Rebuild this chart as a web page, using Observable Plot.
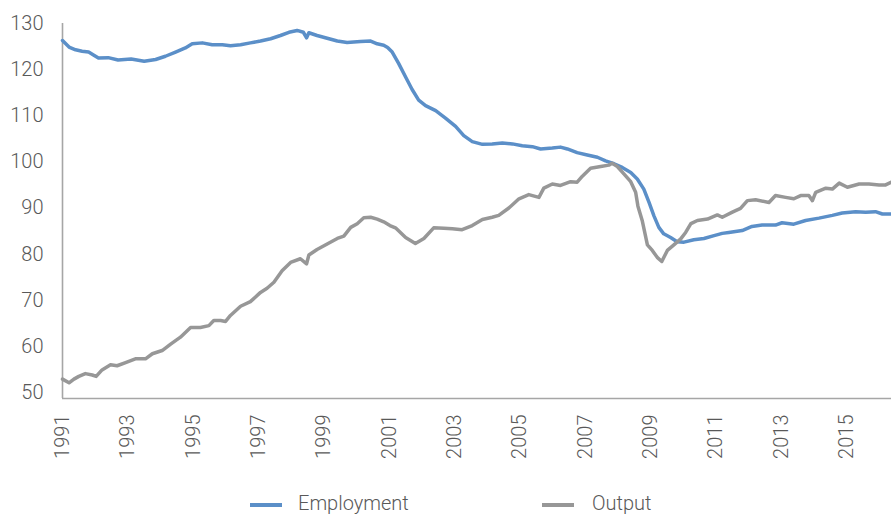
<!DOCTYPE html>
<html>
<head>
<meta charset="utf-8">
<script src="https://cdn.jsdelivr.net/npm/d3@7"></script>
<script src="https://cdn.jsdelivr.net/npm/@observablehq/plot@0.6"></script>
<style>
  html, body { margin: 0; padding: 0; background: #fff; }
  #wrap { position: relative; width: 891px; height: 515px; overflow: hidden; font-family: Roboto, "Liberation Sans", Arial, sans-serif; font-weight: 300; }
  .leg { position: absolute; top: 491px; font-size: 20px; color: #595959; line-height: 24px; font-weight: 300; }
  .sw { position: absolute; height: 3.5px; top: 503px; }
</style>
</head>
<body>
<div id="wrap">
  <div id="chart"></div>
</div>
<script>
// ---- Data ----
const seriesNames = ["Employment", "Output"];
const seriesColors = ["#5b8fc8", "#979797"];

const empYears = [1991.0,1991.2,1991.4,1991.6,1991.8,1991.96,1992.1,1992.4,1992.7,1993.1,1993.5,1993.85,1994.15,1994.46,1994.76,1994.97,1995.28,1995.58,1995.89,1996.14,1996.45,1996.75,1997.06,1997.37,1997.67,1997.93,1998.18,1998.37,1998.47,1998.54,1998.79,1999.1,1999.41,1999.71,2000.12,2000.43,2000.63,2000.83,2000.95,2001.09,2001.29,2001.5,2001.7,2001.9,2002.11,2002.42,2002.72,2003.03,2003.28,2003.54,2003.85,2004.15,2004.46,2004.77,2005.07,2005.38,2005.63,2005.99,2006.24,2006.45,2006.75,2007.06,2007.37,2007.62,2007.88,2008.13,2008.39,2008.59,2008.79,2008.95,2009.1,2009.25,2009.4,2009.61,2009.81,2010.02,2010.32,2010.63,2010.94,2011.19,2011.39,2011.8,2012.1,2012.41,2012.82,2013.02,2013.38,2013.74,2014.15,2014.56,2014.86,2015.27,2015.58,2015.88,2016.09,2016.37];
const empValues = [126.3,124.9,124.3,124.0,123.8,123.1,122.5,122.6,122.1,122.3,121.8,122.2,122.9,123.8,124.7,125.6,125.8,125.4,125.4,125.2,125.4,125.8,126.2,126.7,127.4,128.1,128.5,128.1,126.9,128.0,127.4,126.8,126.2,125.9,126.1,126.2,125.6,125.3,124.8,123.8,121.3,118.4,115.7,113.4,112.2,111.1,109.5,107.7,105.7,104.4,103.8,103.9,104.1,103.9,103.5,103.3,102.8,103.0,103.2,102.8,102.0,101.5,101.0,100.2,99.6,98.8,97.7,96.3,94.1,91.2,88.3,85.8,84.4,83.6,82.7,82.6,83.1,83.4,84.0,84.5,84.7,85.1,86.0,86.3,86.3,86.8,86.5,87.3,87.8,88.4,88.9,89.2,89.1,89.2,88.7,88.7];

const outYears = [1991.0,1991.2,1991.35,1991.5,1991.7,1991.91,1992.03,1992.21,1992.47,1992.67,1992.93,1993.23,1993.54,1993.75,1994.05,1994.31,1994.61,1994.92,1995.22,1995.48,1995.63,1995.84,1995.99,1996.14,1996.45,1996.75,1997.06,1997.26,1997.47,1997.72,1997.98,1998.28,1998.47,1998.54,1998.79,1999.1,1999.41,1999.61,1999.82,2000.02,2000.22,2000.43,2000.63,2000.83,2001.02,2001.19,2001.5,2001.8,2002.06,2002.36,2002.67,2002.93,2003.23,2003.54,2003.85,2004.15,2004.35,2004.66,2004.97,2005.27,2005.58,2005.73,2005.99,2006.24,2006.55,2006.75,2006.91,2007.16,2007.47,2007.72,2007.82,2007.98,2008.18,2008.39,2008.54,2008.61,2008.74,2008.9,2009.05,2009.2,2009.34,2009.51,2009.71,2009.92,2010.07,2010.23,2010.43,2010.74,2011.04,2011.19,2011.5,2011.75,2011.96,2012.21,2012.62,2012.82,2013.13,2013.38,2013.59,2013.84,2013.95,2014.05,2014.36,2014.56,2014.77,2015.02,2015.38,2015.68,2015.99,2016.19,2016.37];
const outValues = [52.9,52.1,52.9,53.5,54.1,53.8,53.5,54.9,56.0,55.8,56.5,57.3,57.3,58.4,59.1,60.5,62.0,64.1,64.1,64.5,65.6,65.6,65.4,66.7,68.7,69.7,71.7,72.6,73.9,76.4,78.2,79.0,77.9,79.8,81.0,82.2,83.4,83.9,85.8,86.6,87.9,88.0,87.6,87.0,86.2,85.7,83.6,82.3,83.4,85.7,85.6,85.5,85.3,86.2,87.5,88.0,88.4,90.0,92.0,92.9,92.3,94.3,95.2,94.9,95.7,95.6,96.9,98.6,99.0,99.3,99.7,99.0,97.4,95.7,93.4,90.4,87.3,82.0,80.8,79.3,78.4,80.8,82.0,83.3,84.7,86.6,87.3,87.6,88.5,88.0,89.1,89.9,91.6,91.8,91.2,92.7,92.3,92.0,92.7,92.7,91.6,93.4,94.3,94.1,95.4,94.5,95.2,95.2,95.0,95.0,95.6];

const yTicks = [50, 60, 70, 80, 90, 100, 110, 120, 130];
const xTicks = [1991, 1993, 1995, 1997, 1999, 2001, 2003, 2005, 2007, 2009, 2011, 2013, 2015];

// ---- Build table ----
const rows = [];
empYears.forEach((t, i) => rows.push({series: seriesNames[0], t, v: empValues[i]}));
outYears.forEach((t, i) => rows.push({series: seriesNames[1], t, v: outValues[i]}));

const yMin = 48.7, yMax = 130;
const xMin = 1991, xMax = 2016.37;

const chart = Plot.plot({
  width: 891,
  height: 478,
  marginLeft: 62,
  marginRight: 0,
  marginTop: 23,
  marginBottom: 80,
  style: {fontFamily: 'Roboto, "Liberation Sans", Arial, sans-serif', fontWeight: 300, fontSize: "20px", color: "#595959", background: "transparent"},
  x: {domain: [xMin, xMax], label: null},
  y: {domain: [yMin, yMax], label: null},
  color: {domain: seriesNames, range: seriesColors},
  marks: [
    Plot.axisY({ticks: yTicks, tickSize: 0, tickPadding: 19, tickFormat: d => String(d), fontSize: 20}),
    Plot.axisX({ticks: xTicks, tickSize: 0, tickPadding: 16, tickRotate: -90, tickFormat: d => String(d), fontSize: 20}),
    Plot.ruleY([yMin], {stroke: "#a6a6a6", strokeWidth: 1.6}),
    Plot.ruleX([xMin], {stroke: "#a6a6a6", strokeWidth: 1.6}),
    Plot.line(rows, {x: "t", y: "v", z: "series", stroke: "series", strokeWidth: 3.5, strokeLinejoin: "round", strokeLinecap: "round"})
  ]
});
document.getElementById("chart").appendChild(chart);

// ---- Legend (HTML, below the SVG) ----
const wrap = document.getElementById("wrap");
const legendPos = [{sw: 250, tx: 298}, {sw: 542, tx: 592}];
seriesNames.forEach((name, i) => {
  const s = document.createElement("div");
  s.className = "sw";
  s.style.left = legendPos[i].sw + "px";
  s.style.width = "32px";
  s.style.background = seriesColors[i];
  wrap.appendChild(s);
  const t = document.createElement("div");
  t.className = "leg";
  t.style.left = legendPos[i].tx + "px";
  t.textContent = name;
  wrap.appendChild(t);
});
</script>
</body>
</html>
